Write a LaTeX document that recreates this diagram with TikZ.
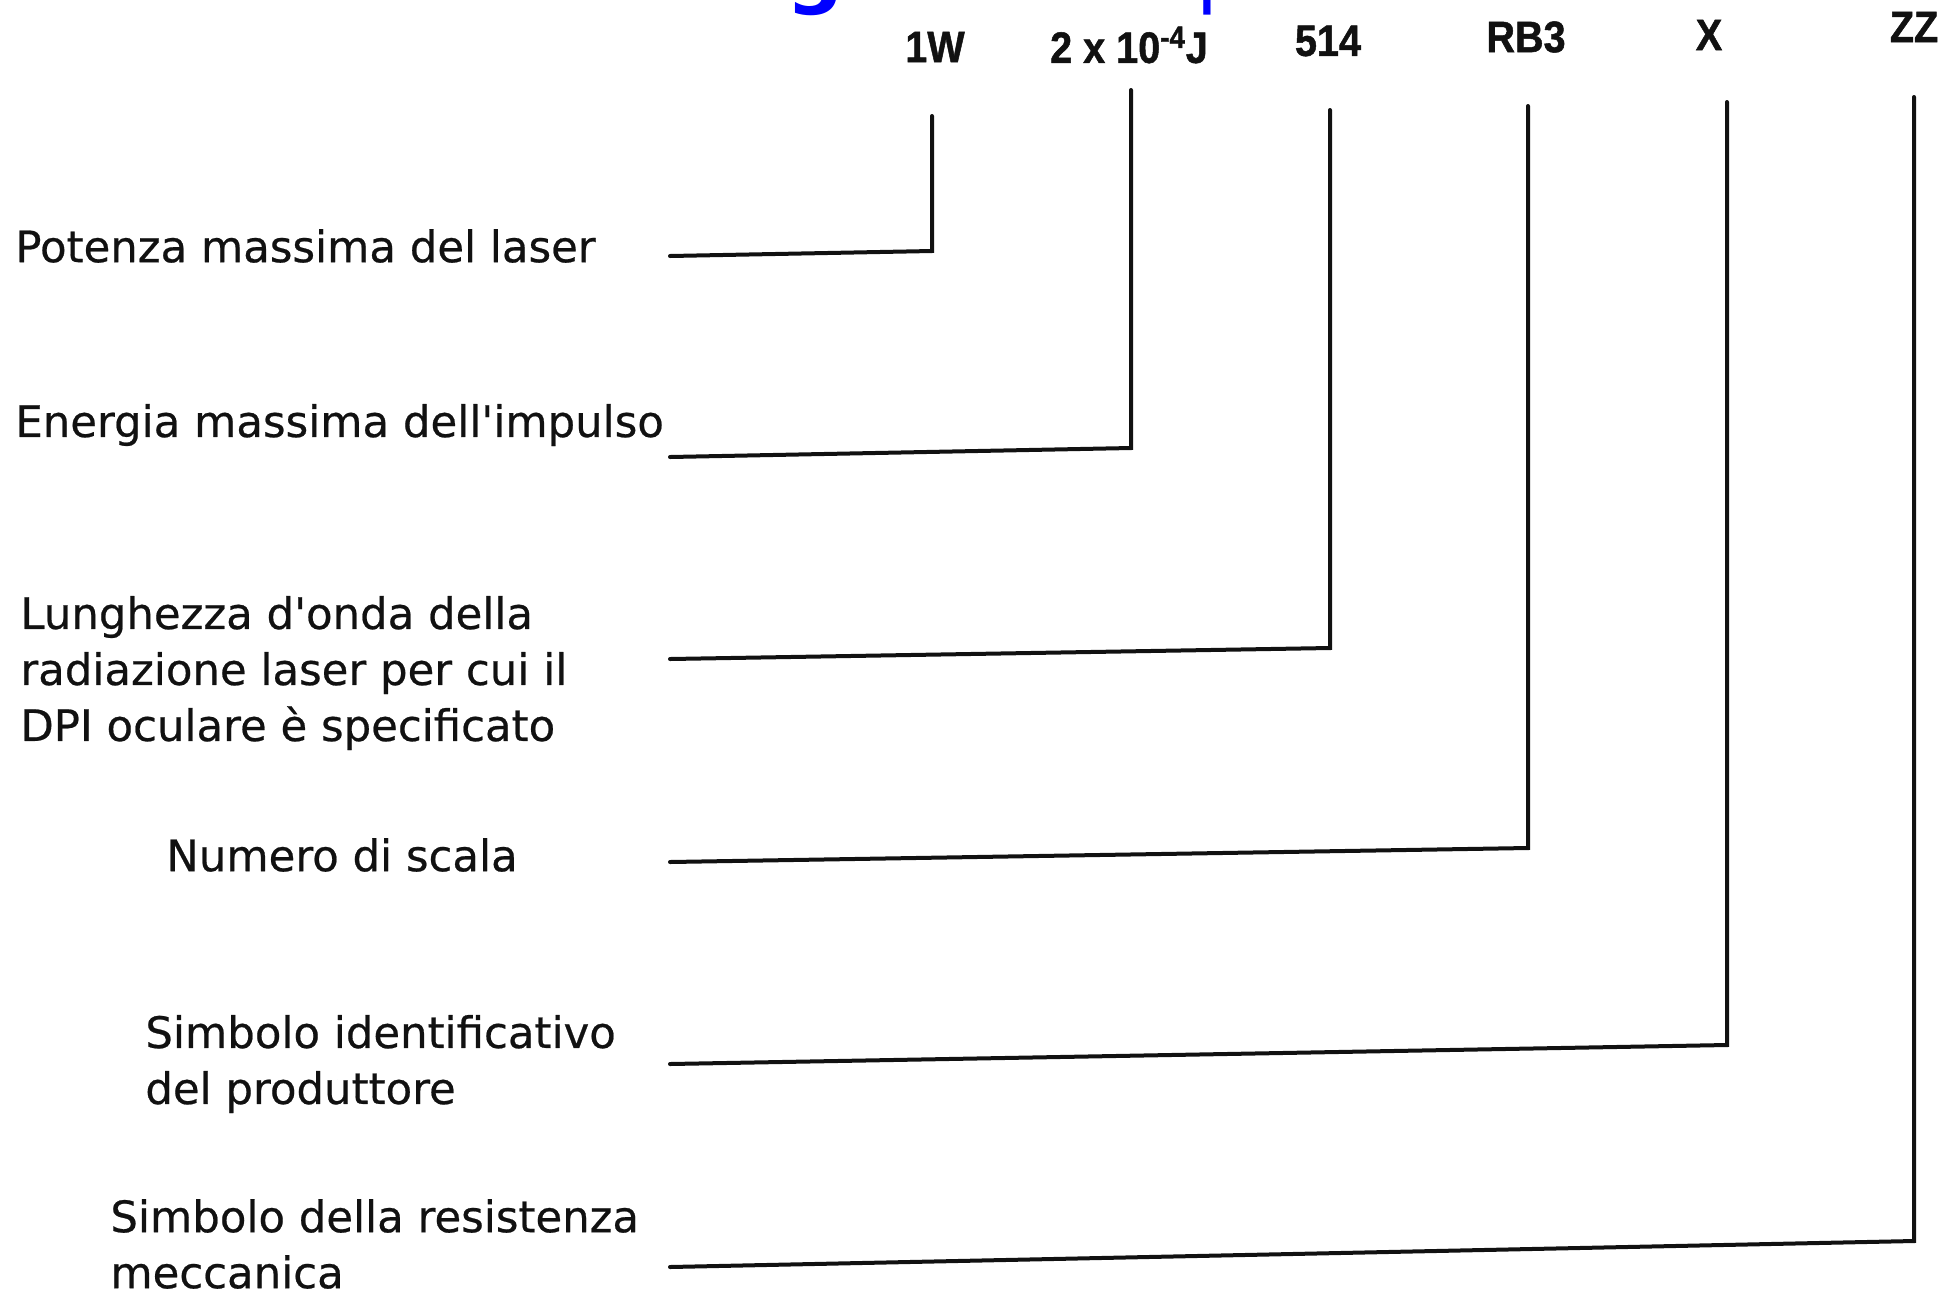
\documentclass[tikz,border=0pt]{standalone}
\usepackage{fontspec}
\setmainfont{DejaVu Sans}
\newfontfamily\descfont{DejaVu Sans}[BoldFont=DejaVu Sans, BoldFeatures={FakeBold=0.5}]
\newfontfamily\codefont{Liberation Sans}[FakeBold=1.2]
\usetikzlibrary{positioning}
\definecolor{titleblue}{HTML}{0000FF}
\definecolor{ink}{HTML}{111111}
\tikzset{
  desc/.style={anchor=west, inner sep=0pt, align=left, text=ink, font=\descfont\bfseries\fontsize{21.7}{28}\selectfont},
  code/.style={inner sep=0pt, text=ink, xscale=0.9, font=\codefont\bfseries\fontsize{22}{24}\selectfont},
  lead/.style={draw=ink, line width=2pt, line join=miter, line cap=round},
  cut/.style={anchor=base, inner sep=0pt, text=titleblue, font=\fontsize{40}{40}\selectfont},
}
\begin{document}
\begin{tikzpicture}[x=0.5pt,y=-0.5pt]
  \useasboundingbox (0,0) rectangle (1960,1292);
  % titolo tagliato in alto
  \begin{scope}
    \clip (0,0) rectangle (1960,60);
    \node[cut, font=\bfseries\fontsize{40}{40}\selectfont] (tg) at (815,-2) {g};
    \node[cut] (tp) at (1222,-2) {p};
  \end{scope}

  % sigla della targhetta
  \node[code] (pw) at (935,47) {1W};
  \node[code] (en) at (1129,45) {2 x 10\textsuperscript{-4}J};
  \node[code] (wl) at (1328,41) {514};
  \node[code] (sc) at (1526,37) {RB3};
  \node[code] (mk) at (1709,35) {X};
  \node[code] (rs) at (1914,27) {ZZ};

  % descrizioni
  \node[desc] (dpw) at (15,246) {Potenza massima del laser};
  \node[desc] (den) at (15,425) {Energia massima dell\textquotesingle impulso};
  \node[desc] (dwl) at (20,673) {Lunghezza d\textquotesingle onda della\\radiazione laser per cui il\\DPI oculare è specificato};
  \node[desc] (dsc) at (166,855) {Numero di scala};
  \node[desc] (dmk) at (145,1064) {Simbolo identificativo\\del produttore};
  \node[desc] (drs) at (110,1244) {Simbolo della resistenza\\meccanica};

  % linee di richiamo
  \foreach \t/\sy/\cx/\cy/\ty in {pw/256/932/251/116, en/457/1131/448/90, wl/659/1330/648/110,
                                 sc/862/1528/848/106, mk/1064/1727/1045/102, rs/1267/1914/1241/97}{
    \coordinate (a\t) at (670,\sy);
    \coordinate (b\t) at (\cx,\cy);
    \coordinate (c\t) at (\cx,\ty);
    \draw[lead] (a\t) -- (b\t) -- (c\t);
  }
\end{tikzpicture}
\end{document}
